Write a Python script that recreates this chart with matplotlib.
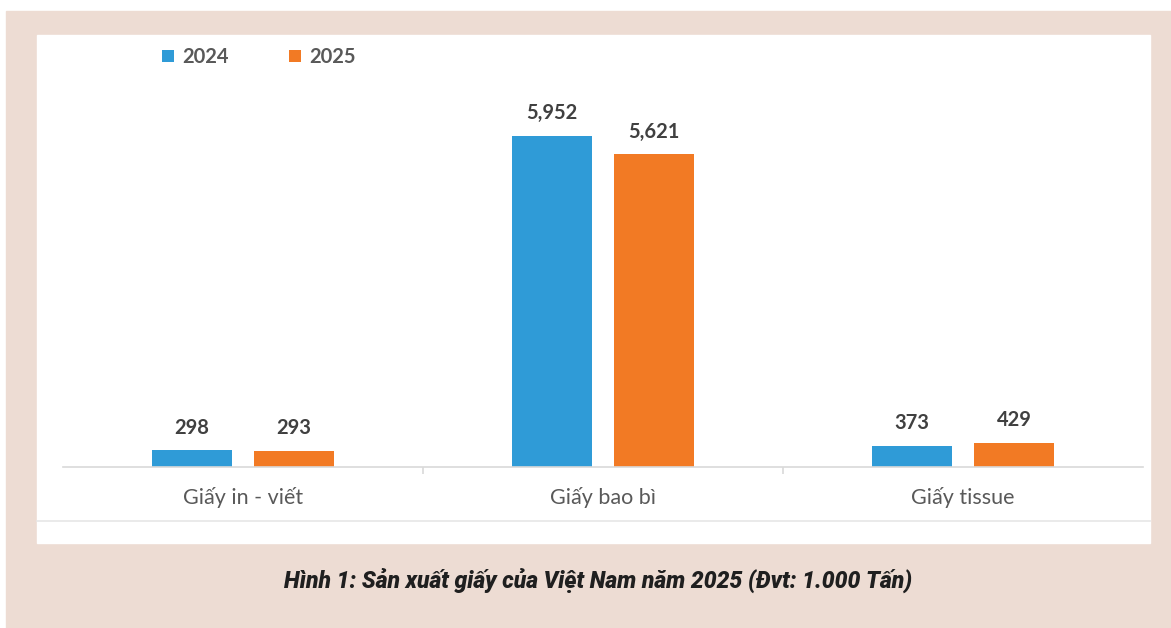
import matplotlib.pyplot as plt
import matplotlib.patches as mpatches
import matplotlib.transforms as mtransforms
import numpy as np

# -------------------------------
# Data
# -------------------------------
categories = ["Giấy in - viết", "Giấy bao bì", "Giấy tissue"]
years = ["2024", "2025"]
values_2024 = [298, 5952, 373]
values_2025 = [293, 5621, 429]
caption = "Hình 1: Sản xuất giấy của Việt Nam năm 2025 (Đvt: 1.000 Tấn)"

# -------------------------------
# Style
# -------------------------------
W, H = 1171, 628
bg_beige = "#eddcd3"
blue = "#2f9bd7"
orange = "#f27a24"
txt_gray = "#595959"
val_gray = "#404040"
plt.rcParams["font.family"] = ["Lato", "DejaVu Sans"]

fig = plt.figure(figsize=(W / 100, H / 100), dpi=100, facecolor="white")

def fx(px):
    return px / W

def fy(py):
    return (H - py) / H

# beige frame and white panel
fig.patches.append(mpatches.Rectangle((fx(6), 0), fx(W - 6), fy(11),
                                      transform=fig.transFigure, color=bg_beige, zorder=0))
fig.patches.append(mpatches.Rectangle((fx(37), fy(543)), fx(1150 - 37), fy(35) - fy(543),
                                      transform=fig.transFigure, color="white", zorder=1))
fig.lines.append(plt.Line2D([fx(37), fx(1150)], [fy(521), fy(521)],
                            transform=fig.transFigure, color="#e6e6e6", lw=1.2, zorder=2))

# -------------------------------
# Bars
# -------------------------------
ax = fig.add_axes([fx(63), fy(467), fx(1143 - 63), fy(100) - fy(467)])
ax.set_facecolor("none")
ax.set_zorder(3)

x = np.arange(len(categories))
width = 0.222
offset = 0.142
b1 = ax.bar(x - offset, values_2024, width, color=blue, label=years[0])
b2 = ax.bar(x + offset, values_2025, width, color=orange, label=years[1])

ax.set_xlim(-0.5, len(categories) - 0.5)
ax.set_ylim(0, 6600)

for bars in (b1, b2):
    for rect in bars:
        v = rect.get_height()
        ax.annotate(f"{v:,.0f}", (rect.get_x() + rect.get_width() / 2, v),
                    xytext=(0, 16.5), textcoords="offset points",
                    ha="center", va="center", fontsize=14.5, fontweight="bold",
                    color=val_gray)

# axis formatting
for s in ["top", "right", "left"]:
    ax.spines[s].set_visible(False)
ax.spines["bottom"].set_color("#d9d9d9")
ax.spines["bottom"].set_linewidth(1.2)
ax.set_yticks([])
ax.set_xticks([])
ax.set_xticks([0.5, 1.5], minor=True)
ax.tick_params(axis="x", which="minor", length=5, color="#d9d9d9", width=1.2, labelbottom=False)

trans = mtransforms.blended_transform_factory(ax.transData, fig.transFigure)
for i, cat in enumerate(categories):
    ax.text(x[i], fy(497), cat, transform=trans, ha="center", va="center",
            fontsize=15.5, color=txt_gray)

# legend
fig.legend(handles=[b1, b2], labels=years, loc="center left",
           bbox_to_anchor=(fx(162), fy(57)), ncol=2, frameon=False,
           handlelength=0.6, handleheight=0.6, handletextpad=0.4,
           columnspacing=3.0, borderpad=0, borderaxespad=0,
           prop={"size": 14.5, "weight": "bold"}, labelcolor=txt_gray)

# caption
fig.text(fx(598), fy(580), caption, ha="center", va="center",
         fontsize=16.5, fontweight="heavy", fontstyle="italic", color="#1f1f1f",
         family=["Roboto", "Liberation Sans", "DejaVu Sans"])

plt.savefig("out.png", dpi=100, facecolor=fig.get_facecolor())
plt.close()
